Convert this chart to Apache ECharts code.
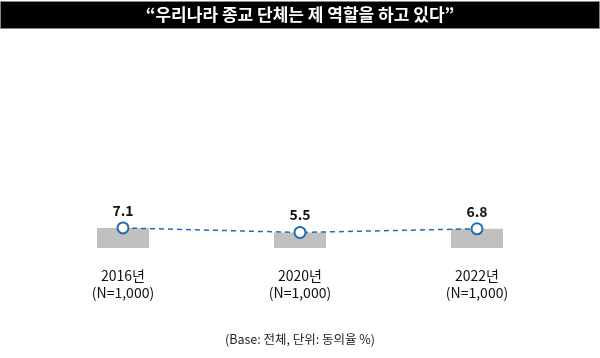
<!DOCTYPE html>
<html><head><meta charset="utf-8">
<script src="https://cdn.jsdelivr.net/npm/echarts@6/dist/echarts.min.js"></script>
<style>html,body{margin:0;padding:0;background:#fff}#c{width:600px;height:358px}</style>
</head><body><div id="c"></div>
<script>
const titleText = '“우리나라 종교 단체는 제 역할을 하고 있다”';
const categories = ['2016년\n(N=1,000)', '2020년\n(N=1,000)', '2022년\n(N=1,000)'];
const values = [7.1, 5.5, 6.8];
const footnote = '(Base: 전체, 단위: 동의율 %)';
const font = '"Noto Sans CJK KR", "Noto Sans", sans-serif';
const chart = echarts.init(document.getElementById('c'));
chart.setOption({
  animation: false,
  backgroundColor: '#fff',
  grid: { left: 34.5, right: 34.5, top: 135, bottom: 110 },
  xAxis: {
    type: 'category', data: categories,
    axisLine: { show: false }, axisTick: { show: false },
    axisLabel: { margin: 19, fontSize: 14, lineHeight: 17, color: '#111', fontFamily: font }
  },
  yAxis: { type: 'value', min: 0, max: 40, show: false, splitLine: { show: false } },
  series: [
    { type: 'bar', data: values, barWidth: 52, itemStyle: { color: '#c0c0c0' }, silent: true },
    { type: 'line', data: values, symbol: 'circle', symbolSize: 11,
      lineStyle: { color: '#1f6cb0', width: 1.5, type: [5, 4] },
      itemStyle: { color: '#fff', borderColor: '#1f6cb0', borderWidth: 2 },
      label: { show: true, position: 'top', distance: 4, fontSize: 14, fontWeight: 'bold', color: '#111', fontFamily: font,
        formatter: p => p.value.toFixed(1) },
      z: 5 }
  ],
  graphic: [
    { type: 'rect', shape: { x: 0.5, y: 1.5, width: 599, height: 27 }, style: { fill: '#000', stroke: '#888', lineWidth: 1 } },
    { type: 'text', x: 300, y: 15, style: { text: titleText, fill: '#fff', fontSize: 17, fontWeight: 'bold', fontFamily: font, align: 'center', verticalAlign: 'middle' } },
    { type: 'text', x: 300, y: 339, style: { text: footnote, fill: '#222', fontSize: 12.5, fontFamily: font, align: 'center', verticalAlign: 'middle' } }
  ]
});
</script></body></html>
